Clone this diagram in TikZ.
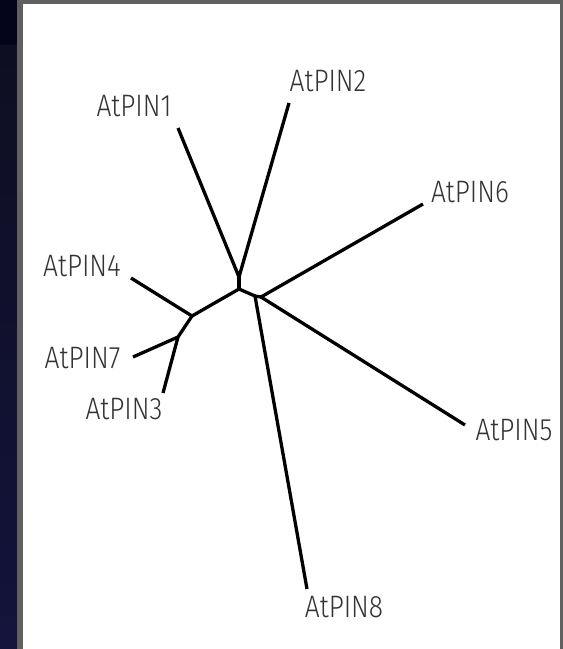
\documentclass[tikz,border=0pt]{standalone}
\usepackage{fontspec}
\setmainfont{Fira Sans Light}[FakeStretch=0.85]
\definecolor{navytop}{HTML}{03031A}
\definecolor{navymid}{HTML}{0E0E20}
\definecolor{navybot}{HTML}{13133C}
\definecolor{frame}{HTML}{606060}
\begin{document}
\begin{tikzpicture}[x=1pt,y=-1pt,
  branch/.style={line width=3.3pt, line join=round},
  lab/.style={font=\fontsize{31}{31}\selectfont, text=black!80, inner sep=0pt}]
\useasboundingbox (0,0) rectangle (563,649);
% background
\shade[top color=navymid, bottom color=navybot] (0,0) rectangle (17,649);
\fill[navytop] (0,0) rectangle (17,45);
\fill[frame] (17,0) rectangle (563,649);
\fill[white] (23,4) rectangle (560,649);
% tree coordinates
\coordinate (n1) at (239,277);
\coordinate (n0) at (239,289);
\coordinate (nL) at (192,316);
\coordinate (nL2) at (178,337);
\coordinate (nR1) at (255,296);
\coordinate (nR2) at (261,297);
\coordinate (t1) at (178,128);
\coordinate (t2) at (289,103);
\coordinate (t4) at (131,278);
\coordinate (t7) at (133,357);
\coordinate (t3) at (163,393);
\coordinate (t8) at (307,589);
\coordinate (t6) at (423,204);
\coordinate (t5) at (465,425);
% branches
\draw[branch] (t1) -- (n1) -- (t2);
\draw[branch] (n1) -- (n0);
\draw[branch] (n0) -- (nL) -- (t4);
\draw[branch] (nL) -- (nL2) -- (t7);
\draw[branch] (nL2) -- (t3);
\draw[branch] (n0) -- (nR1) -- (t8);
\draw[branch] (nR1) -- (nR2) -- (t6);
\draw[branch] (nR2) -- (t5);
% labels
\node[lab] (l1) at (134,106.5) {AtPIN1};
\node[lab] (l2) at (328,81) {AtPIN2};
\node[lab] (l6) at (470,192) {AtPIN6};
\node[lab] (l5) at (514,430) {AtPIN5};
\node[lab] (l4) at (82,266) {AtPIN4};
\node[lab] (l7) at (82.5,358.5) {AtPIN7};
\node[lab] (l3) at (124,409) {AtPIN3};
\node[lab] (l8) at (344,607) {AtPIN8};
\end{tikzpicture}
\end{document}
